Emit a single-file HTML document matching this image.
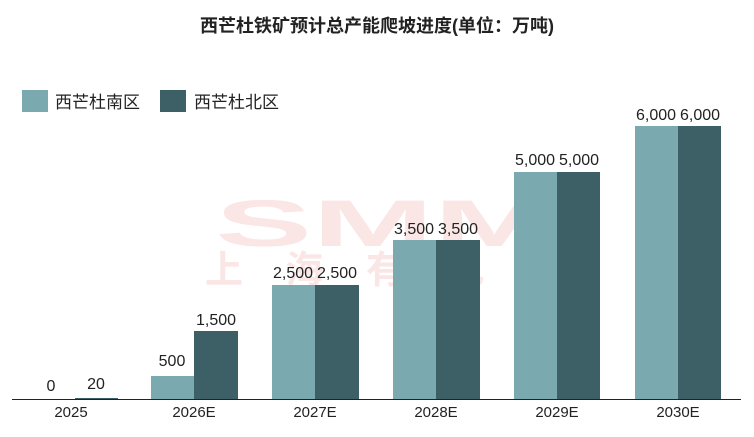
<!DOCTYPE html>
<html><head><meta charset="utf-8"><style>
body{margin:0;background:#fff;}
svg text{font-family:"Liberation Sans","Noto Sans CJK SC",sans-serif;}
</style></head><body>
<svg width="754" height="432" xmlns="http://www.w3.org/2000/svg">
<rect width="754" height="432" fill="#fff"/>
<text x="377" y="32" text-anchor="middle" font-size="18" font-weight="bold" fill="#222">西芒杜铁矿预计总产能爬坡进度(单位：万吨)</text>
<!-- watermark -->
<text x="385" y="246" text-anchor="middle" font-size="66" font-weight="bold" fill="#fbe6e6" textLength="340" lengthAdjust="spacingAndGlyphs">SMM</text>
<text x="385" y="283" text-anchor="middle" font-size="38" font-weight="bold" fill="#fbe6e6" textLength="360" lengthAdjust="spacing">上海有色网</text>
<!-- legend -->
<rect x="22" y="90" width="26" height="22" fill="#7ba9b0"/>
<text x="55" y="108" font-size="17" fill="#222">西芒杜南区</text>
<rect x="160" y="90" width="26" height="22" fill="#3d5f66"/>
<text x="194" y="108" font-size="17" fill="#222">西芒杜北区</text>
<g font-size="16" fill="#222" text-anchor="middle">
<rect x="75" y="398" width="43" height="1" fill="#3d5f66"/>
<text x="51" y="391">0</text><text x="96" y="389">20</text>
<rect x="151" y="376" width="43" height="23" fill="#7ba9b0"/>
<rect x="194" y="331" width="44" height="68" fill="#3d5f66"/>
<text x="172" y="366">500</text><text x="216" y="325">1,500</text>
<rect x="272" y="285" width="43" height="114" fill="#7ba9b0"/>
<rect x="315" y="285" width="44" height="114" fill="#3d5f66"/>
<text x="293" y="278">2,500</text><text x="337" y="278">2,500</text>
<rect x="393" y="240" width="43" height="159" fill="#7ba9b0"/>
<rect x="436" y="240" width="44" height="159" fill="#3d5f66"/>
<text x="414" y="234">3,500</text><text x="458" y="234">3,500</text>
<rect x="514" y="172" width="43" height="227" fill="#7ba9b0"/>
<rect x="557" y="172" width="43" height="227" fill="#3d5f66"/>
<text x="535" y="165">5,000</text><text x="579" y="165">5,000</text>
<rect x="635" y="126" width="43" height="273" fill="#7ba9b0"/>
<rect x="678" y="126" width="43" height="273" fill="#3d5f66"/>
<text x="656" y="120">6,000</text><text x="700" y="120">6,000</text>
</g>
<line x1="12" y1="399.5" x2="741" y2="399.5" stroke="#222" stroke-width="1"/>
<g font-size="15" fill="#222" text-anchor="middle">
<text x="71" y="417">2025</text><text x="194" y="417">2026E</text><text x="315" y="417">2027E</text>
<text x="436" y="417">2028E</text><text x="557" y="417">2029E</text><text x="678" y="417">2030E</text>
</g>
</svg>
</body></html>
